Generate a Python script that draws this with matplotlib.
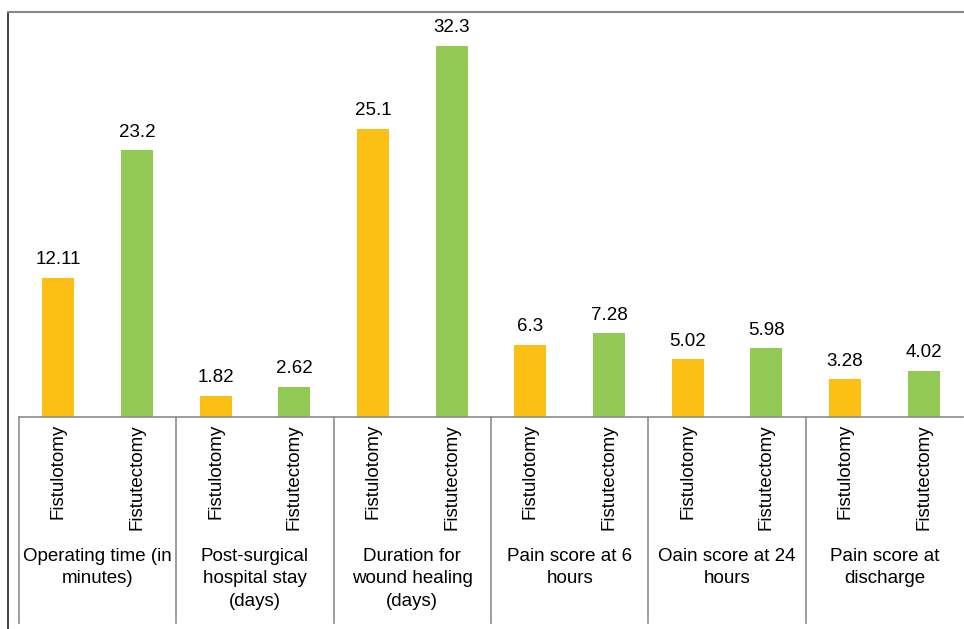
import matplotlib
matplotlib.use("Agg")
import matplotlib.pyplot as plt
import matplotlib.transforms as mtransforms
from matplotlib.lines import Line2D
import numpy as np

plt.rcParams['font.family'] = ['Liberation Sans', 'DejaVu Sans']

groups = ["Operating time (in\nminutes)", "Post-surgical\nhospital stay\n(days)",
          "Duration for\nwound healing\n(days)", "Pain score at 6\nhours",
          "Oain score at 24\nhours", "Pain score at\ndischarge"]
procedures = ["Fistulotomy", "Fistutectomy"]
fistulotomy = [12.11, 1.82, 25.1, 6.3, 5.02, 3.28]
fistutectomy = [23.2, 2.62, 32.3, 7.28, 5.98, 4.02]
fistulotomy_lbl = ["12.11", "1.82", "25.1", "6.3", "5.02", "3.28"]
fistutectomy_lbl = ["23.2", "2.62", "32.3", "7.28", "5.98", "4.02"]

W, H = 964, 629
fig = plt.figure(figsize=(W / 100, H / 100), dpi=100)
ax = fig.add_axes([19 / W, 1 - 417 / H, 944 / W, 405 / H])

n = len(groups)
g = np.arange(n)
bw = 0.205
x1 = g - 0.25
x2 = g + 0.25
fs = 13.5
b1 = ax.bar(x1, fistulotomy, bw, color="#FCC014")
b2 = ax.bar(x2, fistutectomy, bw, color="#92C955")
ax.bar_label(b1, labels=fistulotomy_lbl, padding=7, fontsize=fs)
ax.bar_label(b2, labels=fistutectomy_lbl, padding=7, fontsize=fs)

ax.set_xlim(-0.5, n - 0.5)
ax.set_ylim(0, 35.25)
for s in ["top", "right", "left"]:
    ax.spines[s].set_visible(False)
ax.spines["bottom"].set_color("#8c8c8c")
ax.spines["bottom"].set_linewidth(1.2)
ax.set_yticks([])
ax.set_xticks([])

trans = mtransforms.blended_transform_factory(ax.transData, ax.transAxes)
lo = -(623 - 417) / 405
for b in np.arange(n) - 0.5:
    ax.plot([b, b], [0, lo], transform=trans, color="#8c8c8c", lw=1.2, clip_on=False)

for i in range(n):
    for xp, name in zip([x1[i], x2[i]], procedures):
        ax.text(xp, -7 / 405, name, transform=trans, rotation=90,
                ha="center", va="top", fontsize=fs)
    ax.text(g[i], -(548 - 417) / 405, groups[i], transform=trans,
            ha="center", va="top", fontsize=fs, linespacing=1.42)

# outer frame
fig.add_artist(Line2D([8 / W, 8 / W], [0, 1 - 12 / H], color="#222222", lw=1.2))
fig.add_artist(Line2D([8 / W, 1], [1 - 12 / H, 1 - 12 / H], color="#888888", lw=1.5))

fig.savefig("out.png", dpi=100)
